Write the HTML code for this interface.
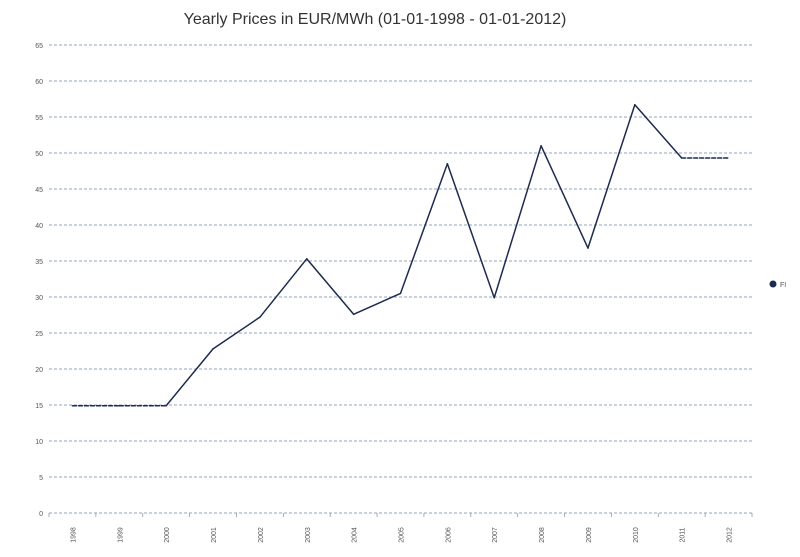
<!DOCTYPE html>
<html><head><meta charset="utf-8"><style>
body{margin:0;background:#fff;}
svg{display:block;font-family:"Liberation Sans",sans-serif;}
</style></head><body>
<svg id="chart" width="800" height="557">
<text x="375" y="24" text-anchor="middle" font-size="16" fill="#333">Yearly Prices in EUR/MWh (01-01-1998 - 01-01-2012)</text>
<g id="grid"></g>
<g id="xaxis"></g>
<g id="series"></g>
<g><circle cx="773" cy="284" r="3.5" fill="#1c2b4f"/><text x="780" y="287" font-size="7" fill="#555">FI</text></g>
</svg>
<script>
const years=["1998","1999","2000","2001","2002","2003","2004","2005","2006","2007","2008","2009","2010","2011","2012"];
const prices=[14.9,14.9,14.9,22.8,27.2,35.3,27.6,30.5,48.5,29.9,51.0,36.8,56.7,49.3,49.3];
const dashedSegments=[0,1,13];
const yTicks=[0,5,10,15,20,25,30,35,40,45,50,55,60,65];
const NS="http://www.w3.org/2000/svg";
const x0=49,x1=752,yTop=45,yBot=513,yMax=65;
const step=(x1-x0)/years.length;
const xs=i=>x0+step*(i+0.5);
const ys=v=>yBot-(v/yMax)*(yBot-yTop);
function mk(t,a,p){const e=document.createElementNS(NS,t);for(const k in a)e.setAttribute(k,a[k]);p.appendChild(e);return e;}
const grid=document.getElementById('grid');
yTicks.forEach(v=>{
 const l=mk('line',{x1:x0,x2:x1,y1:ys(v),y2:ys(v),stroke:'#6f86a6','stroke-width':0.8,'stroke-dasharray':'3,2'},grid);
 
 
 const t=mk('text',{x:43,y:ys(v)+3,'text-anchor':'end','font-size':7,fill:'#555'},grid);
 t.textContent=v;
 
 
});
const xa=document.getElementById('xaxis');
for(let i=0;i<=years.length;i++){
 const tk=mk('line',{x1:x0+step*i,x2:x0+step*i,y1:yBot,y2:yBot+4,stroke:'#999','stroke-width':0.8},xa);
 
 
}
years.forEach((y,i)=>{
 const t=mk('text',{transform:`translate(${xs(i)+3},${yBot+22}) rotate(-90)`,'text-anchor':'middle','font-size':7,fill:'#555'},xa);
 t.textContent=y;
 
 
});
const s=document.getElementById('series');
for(let i=0;i<prices.length-1;i++){
 const d=dashedSegments.includes(i);
 const l=mk('line',{x1:xs(i),y1:ys(prices[i]),x2:xs(i+1),y2:ys(prices[i+1]),stroke:'#1c2b4f','stroke-width':1.5,'stroke-dasharray':d?'4,2':'none','stroke-linecap':'round'},s);
 
 
}
</script>
</body></html>
